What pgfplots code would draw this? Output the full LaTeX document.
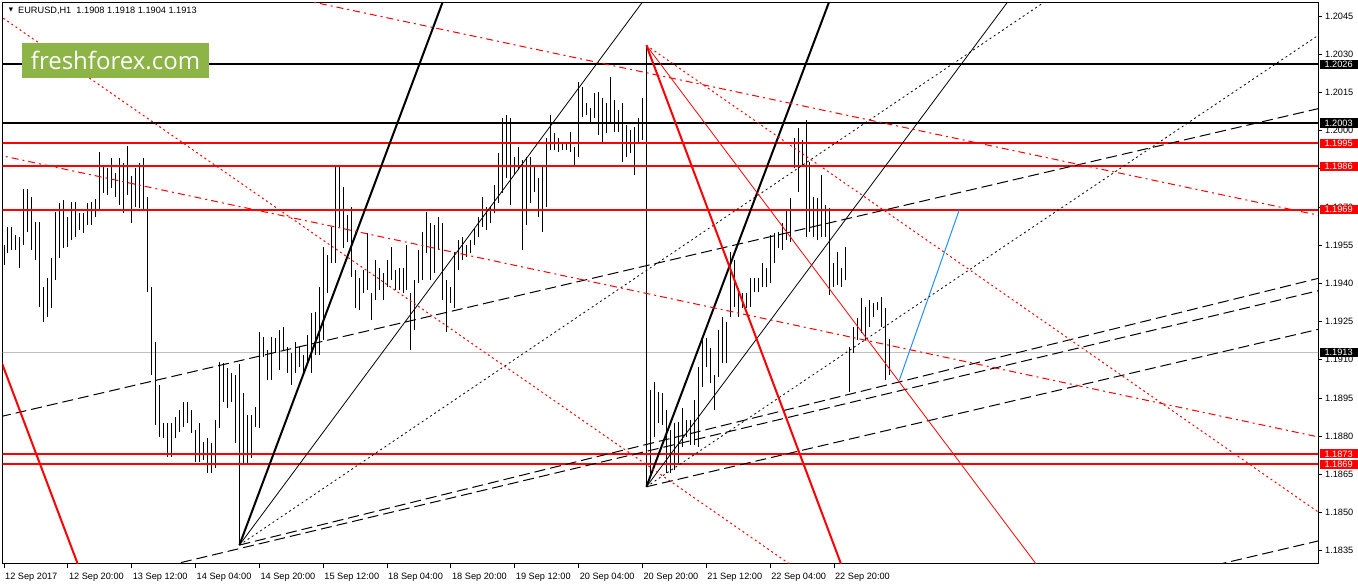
\documentclass[border=0pt]{standalone}
\usepackage{fontspec}
\setmainfont{Liberation Sans}
\newfontfamily\opensans{Open Sans}
\newfontfamily\dejavu{DejaVu Sans}
\usepackage{pgfplots}
\pgfplotsset{compat=1.18}
\usepackage{pgfplotstable}
\definecolor{ffgreen}{RGB}{141,180,70}
\definecolor{mtblue}{RGB}{30,144,255}
\definecolor{bidgray}{RGB}{192,192,192}

% EURUSD H1 bars: index, high, low
\pgfplotstableread{
i hi lo
0 1.19551 1.19472
1 1.19623 1.19518
2 1.19623 1.19531
3 1.19590 1.19531
4 1.19583 1.19459
5 1.19769 1.19551
6 1.19769 1.19603
7 1.19740 1.19531
8 1.19642 1.19492
9 1.19642 1.19308
10 1.19387 1.19249
11 1.19420 1.19269
12 1.19498 1.19302
13 1.19681 1.19413
14 1.19714 1.19498
15 1.19727 1.19538
16 1.19662 1.19544
17 1.19721 1.19570
18 1.19721 1.19583
19 1.19675 1.19610
20 1.19675 1.19599
21 1.19714 1.19629
22 1.19721 1.19629
23 1.19730 1.19659
24 1.19917 1.19688
25 1.19865 1.19756
26 1.19852 1.19747
27 1.19891 1.19773
28 1.19832 1.19740
29 1.19891 1.19708
30 1.19872 1.19678
31 1.19940 1.19747
32 1.19822 1.19638
33 1.19852 1.19701
34 1.19872 1.19695
35 1.19891 1.19688
36 1.19740 1.19367
37 1.19387 1.19040
38 1.19171 1.18844
39 1.19001 1.18798
40 1.18850 1.18791
41 1.18850 1.18719
42 1.18850 1.18719
43 1.18876 1.18791
44 1.18903 1.18817
45 1.18935 1.18837
46 1.18935 1.18850
47 1.18903 1.18811
48 1.18824 1.18700
49 1.18850 1.18700
50 1.18778 1.18706
51 1.18791 1.18654
52 1.18772 1.18654
53 1.18863 1.18673
54 1.19092 1.18831
55 1.19086 1.18935
56 1.19066 1.18909
57 1.19047 1.18935
58 1.19040 1.18772
59 1.19083 1.18372
60 1.18968 1.18693
61 1.18883 1.18693
62 1.18883 1.18713
63 1.18916 1.18837
64 1.19210 1.18831
65 1.19190 1.19112
66 1.19138 1.19020
67 1.19190 1.19020
68 1.19184 1.19125
69 1.19217 1.19060
70 1.19230 1.19138
71 1.19151 1.19047
72 1.19125 1.19001
73 1.19171 1.19047
74 1.19151 1.19073
75 1.19119 1.19047
76 1.19197 1.19086
77 1.19282 1.19047
78 1.19289 1.19119
79 1.19387 1.19119
80 1.19544 1.19178
81 1.19511 1.19361
82 1.19623 1.19479
83 1.19865 1.19479
84 1.19865 1.19623
85 1.19780 1.19538
86 1.19669 1.19564
87 1.19701 1.19426
88 1.19452 1.19302
89 1.19420 1.19295
90 1.19452 1.19361
91 1.19597 1.19374
92 1.19361 1.19256
93 1.19492 1.19335
94 1.19459 1.19374
95 1.19439 1.19335
96 1.19492 1.19387
97 1.19544 1.19413
98 1.19452 1.19374
99 1.19459 1.19374
100 1.19459 1.19361
101 1.19551 1.19374
102 1.19361 1.19138
103 1.19413 1.19217
104 1.19531 1.19400
105 1.19603 1.19413
106 1.19681 1.19518
107 1.19636 1.19413
108 1.19629 1.19439
109 1.19662 1.19531
110 1.19636 1.19335
111 1.19413 1.19210
112 1.19387 1.19322
113 1.19524 1.19302
114 1.19570 1.19452
115 1.19583 1.19492
116 1.19551 1.19505
117 1.19570 1.19518
118 1.19616 1.19551
119 1.19662 1.19583
120 1.19740 1.19623
121 1.19701 1.19610
122 1.19701 1.19636
123 1.19786 1.19675
124 1.19911 1.19714
125 1.20048 1.19754
126 1.20061 1.19813
127 1.20048 1.19708
128 1.19898 1.19826
129 1.19937 1.19845
130 1.19885 1.19531
131 1.19898 1.19629
132 1.19898 1.19714
133 1.19858 1.19760
134 1.19813 1.19662
135 1.19865 1.19603
136 1.19970 1.19701
137 1.20061 1.19924
138 1.19989 1.19924
139 1.19970 1.19917
140 1.19956 1.19924
141 1.19950 1.19924
142 1.19996 1.19917
143 1.19937 1.19858
144 1.20192 1.19898
145 1.20172 1.20055
146 1.20107 1.20061
147 1.20088 1.20029
148 1.20147 1.20048
149 1.20153 1.19983
150 1.20127 1.19950
151 1.20107 1.19989
152 1.20212 1.20035
153 1.20120 1.19996
154 1.20081 1.19996
155 1.20107 1.19878
156 1.20022 1.19898
157 1.20002 1.19911
158 1.20015 1.19826
159 1.20048 1.19956
160 1.20127 1.19963
161 1.20335 1.18601
162 1.18981 1.18641
163 1.19014 1.18798
164 1.18974 1.18850
165 1.18968 1.18844
166 1.18903 1.18654
167 1.18824 1.18654
168 1.18850 1.18667
169 1.18857 1.18693
170 1.18909 1.18758
171 1.18863 1.18798
172 1.18863 1.18765
173 1.18942 1.18765
174 1.19073 1.18758
175 1.19178 1.18994
176 1.19184 1.19073
177 1.19145 1.19007
178 1.19040 1.18903
179 1.19217 1.19033
180 1.19269 1.19086
181 1.19249 1.19086
182 1.19524 1.19269
183 1.19492 1.19308
184 1.19381 1.19269
185 1.19361 1.19302
186 1.19361 1.19302
187 1.19420 1.19308
188 1.19420 1.19367
189 1.19420 1.19367
190 1.19479 1.19387
191 1.19459 1.19387
192 1.19590 1.19400
193 1.19597 1.19479
194 1.19603 1.19538
195 1.19636 1.19531
196 1.19688 1.19570
197 1.19734 1.19564
198 1.19970 1.19852
199 1.20009 1.19760
200 1.19963 1.19865
201 1.20042 1.19583
202 1.19878 1.19603
203 1.19740 1.19583
204 1.19734 1.19570
205 1.19826 1.19583
206 1.19708 1.19583
207 1.19695 1.19354
208 1.19479 1.19387
209 1.19524 1.19394
210 1.19459 1.19387
211 1.19544 1.19413
212 1.19151 1.18974
213 1.19230 1.19125
214 1.19263 1.19178
215 1.19341 1.19204
216 1.19308 1.19178
217 1.19335 1.19230
218 1.19322 1.19269
219 1.19328 1.19295
220 1.19348 1.19230
221 1.19302 1.19020
222 1.19180 1.19040
}\bars

\begin{document}
\begin{tikzpicture}
\path[use as bounding box] (0,0) rectangle (1358bp,584bp);
\begin{axis}[
  at={(2.5bp,20.5bp)}, anchor=south west,
  scale only axis, width=1315.5bp, height=561bp,
  xmin=-0.376, xmax=329.32, ymin=1.182996, ymax=1.205032,
  axis line style={line width=1bp, black},
  clip mode=individual,
  font=\fontsize{9.2bp}{11bp}\selectfont,
  tick align=outside, major tick length=4bp,
  tick style={black, line width=0.8bp},
  xtick pos=bottom, ytick pos=right, yticklabel pos=right,
  xtick={0,16,32,48,64,80,96,112,128,144,160,176,192,208},
  xticklabels={12 Sep 2017, 12 Sep 20:00, 13 Sep 12:00, 14 Sep 04:00, 14 Sep 20:00, 15 Sep 12:00, 18 Sep 04:00, 18 Sep 20:00, 19 Sep 12:00, 20 Sep 04:00, 20 Sep 20:00, 21 Sep 12:00, 22 Sep 04:00, 22 Sep 20:00},
  xticklabel style={anchor=north west, inner sep=0pt, yshift=-5.5bp, xshift=1bp},
  ytick={1.1835,1.1850,1.1865,1.1880,1.1895,1.1910,1.1925,1.1940,1.1955,1.1970,1.1985,1.2000,1.2015,1.2030,1.2045},
  scaled y ticks=false,
  yticklabel style={anchor=west, inner sep=0pt, xshift=3bp,
    /pgf/number format/.cd, fixed, fixed zerofill, precision=4, assume math mode=true},
]
% bid line
\addplot[bidgray, line width=1bp] coordinates {(-5,1.1913) (335,1.1913)};

% bars (high-low)
\addplot[draw=none, mark=none, forget plot,
  error bars/.cd, y dir=plus, y explicit, error mark=none,
  error bar style={draw=black, line width=1bp}]
  table[x=i, y=lo, y error expr=\thisrow{hi}-\thisrow{lo}] {\bars};

% horizontal levels
\addplot[black, line width=2bp] coordinates {(-5,1.2026) (335,1.2026)};
\addplot[black, line width=2bp] coordinates {(-5,1.2003) (335,1.2003)};
\addplot[red, line width=2bp] coordinates {(-5,1.1995) (335,1.1995)};
\addplot[red, line width=2bp] coordinates {(-5,1.1986) (335,1.1986)};
\addplot[red, line width=2bp] coordinates {(-5,1.1969) (335,1.1969)};
\addplot[red, line width=2bp] coordinates {(-5,1.1873) (335,1.1873)};
\addplot[red, line width=2bp] coordinates {(-5,1.1869) (335,1.1869)};

% fan from 14 Sep low
\addplot[black, line width=2bp] coordinates {(59,1.18372) (110.13,1.20513)};
\addplot[black, line width=0.8bp] coordinates {(59,1.18372) (160.4,1.20513)};
\addplot[black, line width=0.8bp, dash pattern=on 2bp off 3bp] coordinates {(59,1.18372) (261.5,1.20513)};
% fan from 20 Sep low
\addplot[black, line width=2bp] coordinates {(161,1.18601) (206.97,1.20513)};
\addplot[black, line width=0.8bp] coordinates {(161,1.18601) (251.9,1.20513)};
\addplot[black, line width=0.8bp, dash pattern=on 2bp off 3bp] coordinates {(161,1.18601) (332.3,1.20405)};

% channel lines
\addplot[black, line width=1bp, dash pattern=on 11bp off 5bp] coordinates {(-1.0,1.18876) (332.3,1.20097)};
\addplot[black, line width=1bp, dash pattern=on 11bp off 5bp] coordinates {(36.54,1.18274) (332.3,1.19382)};
\addplot[black, line width=1bp, dash pattern=on 11bp off 5bp] coordinates {(59,1.18372) (332.3,1.19431)};
\addplot[black, line width=1bp, dash pattern=on 11bp off 5bp] coordinates {(161,1.18601) (332.3,1.19230)};
\addplot[black, line width=1bp, dash pattern=on 11bp off 5bp] coordinates {(299.75,1.18279) (332.3,1.18399)};

% red trend lines
\addplot[red, line width=2bp] coordinates {(-2.26,1.19159) (19.05,1.18274)};
\addplot[red, line width=2bp] coordinates {(161,1.20335) (210.35,1.18274)};
\addplot[red, line width=0.8bp] coordinates {(161,1.20335) (259.8,1.18274)};
\addplot[red, line width=1bp, dash pattern=on 2bp off 3bp] coordinates {(-2.26,1.20464) (199.07,1.18274)};
\addplot[red, line width=1bp, dash pattern=on 2bp off 3bp] coordinates {(161,1.20335) (332.3,1.18470)};
\addplot[red, line width=1bp, dash pattern=on 7bp off 4bp on 2bp off 4bp] coordinates {(-2.26,1.19907) (332.3,1.18787)};
\addplot[red, line width=1bp, dash pattern=on 7bp off 4bp on 2bp off 4bp] coordinates {(75.0,1.20513) (332.3,1.19658)};

% projection
\addplot[mtblue, line width=1bp] coordinates {(224.4,1.19020) (239.4,1.19688)};

% header and logo
\node[anchor=west, inner sep=0pt, font=\dejavu\fontsize{5.5bp}{6bp}\selectfont] at (axis cs:1.2,1.20473) {▼};
\node[anchor=west, inner sep=0pt] at (axis cs:3.51,1.20471) {EURUSD,H1\ \ 1.1908 1.1918 1.1904 1.1913};
\node[fill=ffgreen, text=white, minimum width=187bp, minimum height=34.4bp, inner sep=0pt,
  font=\opensans\fontsize{24bp}{26bp}\selectfont] at (axis cs:27.94,1.20275) {freshforex.com};

\coordinate (l2026) at (axis cs:329.32,1.2026);
\coordinate (l2003) at (axis cs:329.32,1.2003);
\coordinate (l1995) at (axis cs:329.32,1.1995);
\coordinate (l1986) at (axis cs:329.32,1.1986);
\coordinate (l1969) at (axis cs:329.32,1.1969);
\coordinate (l1913) at (axis cs:329.32,1.1913);
\coordinate (l1873) at (axis cs:329.32,1.1873);
\coordinate (l1869) at (axis cs:329.32,1.1869);
\end{axis}
\tikzset{pricebox/.style={anchor=west, text=white, inner xsep=5bp, inner ysep=1.3bp, xshift=1.3bp,
  font=\fontsize{9.2bp}{11bp}\selectfont}}
\node[pricebox, fill=black] at (l2026) {1.2026};
\node[pricebox, fill=black] at (l2003) {1.2003};
\node[pricebox, fill=red] at (l1995) {1.1995};
\node[pricebox, fill=red] at (l1986) {1.1986};
\node[pricebox, fill=red] at (l1969) {1.1969};
\node[pricebox, fill=black] at (l1913) {1.1913};
\node[pricebox, fill=red] at (l1873) {1.1873};
\node[pricebox, fill=red] at (l1869) {1.1869};
\end{tikzpicture}
\end{document}
